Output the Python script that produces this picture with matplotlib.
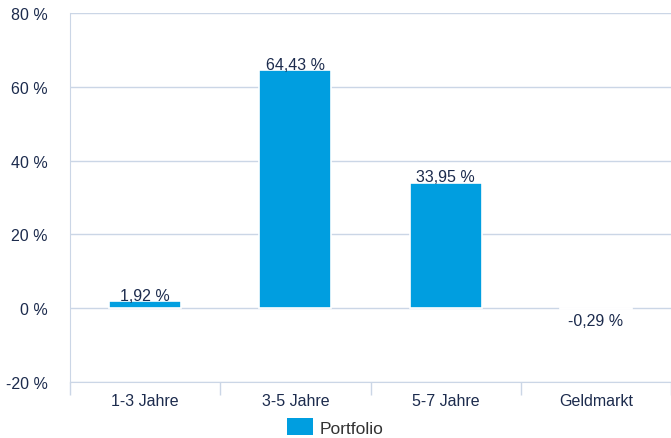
import matplotlib
matplotlib.use("Agg")
import matplotlib.pyplot as plt
from matplotlib.patches import Patch
import numpy as np

plt.rcParams['font.family'] = ['Liberation Sans', 'DejaVu Sans']

categories = ['1-3 Jahre', '3-5 Jahre', '5-7 Jahre', 'Geldmarkt']
values = [1.92, 64.43, 33.95, -0.29]
yticks = [-20, 0, 20, 40, 60, 80]

bar_color = '#009ee0'
text_color = '#1c2b4d'
grid_color = '#cbd6e6'

fig = plt.figure(figsize=(6.71, 4.39), dpi=100)
ax = fig.add_axes([70 / 671, (439 - 383) / 439, 601 / 671, 369 / 439])

x = np.arange(len(categories))
ax.bar(x, values, width=0.48, color=bar_color, edgecolor='white', linewidth=1.2, zorder=3)

for xi, v in zip(x, values):
    label = f'{v:.2f}'.replace('.', ',') + ' %'
    if v >= 0:
        ax.annotate(label, (xi, v), xytext=(0, -1), textcoords='offset points',
                    ha='center', va='bottom', fontsize=11.5, color=text_color, zorder=4)
    else:
        ax.annotate(label, (xi, v), xytext=(0, -3), textcoords='offset points',
                    ha='center', va='top', fontsize=11.5, color=text_color, zorder=4)

ax.set_xlim(-0.5, len(categories) - 0.5)
ax.set_ylim(-20, 80)
ax.set_yticks(yticks)
ax.set_yticklabels([f'{t} %' for t in yticks], fontsize=11.5, color=text_color)
ax.grid(axis='y', color=grid_color, linewidth=1, zorder=0)
ax.tick_params(axis='y', length=0, pad=16)

ax.set_xticks(x)
ax.set_xticklabels(categories, fontsize=11.5, color=text_color)
ax.tick_params(axis='x', which='major', length=0, pad=8)
ax.set_xticks(np.arange(-0.5, len(categories) - 0.4, 1), minor=True)
ax.tick_params(axis='x', which='minor', length=9, color=grid_color, width=1)

for side in ['top', 'right']:
    ax.spines[side].set_visible(False)
ax.spines['left'].set_color(grid_color)
ax.spines['bottom'].set_color(grid_color)
ax.spines['left'].set_bounds(-20, 80)

fig.legend(handles=[Patch(facecolor=bar_color, label='Portfolio')],
           loc='center', bbox_to_anchor=(0.5, 1 - 428 / 439), frameon=False,
           fontsize=12.5, handlelength=1.5, handleheight=1.1, handletextpad=0.4,
           labelcolor='#333333')

fig.savefig('out.png', dpi=100)
